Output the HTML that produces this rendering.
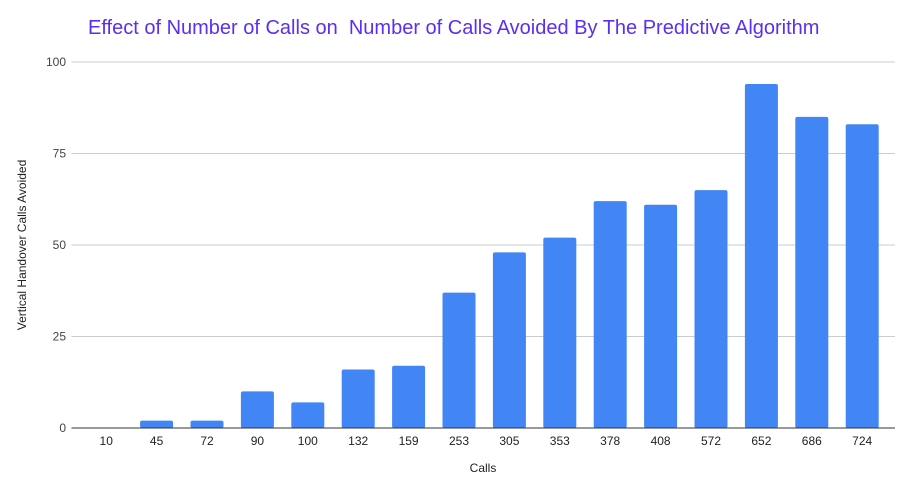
<!DOCTYPE html>
<html><head><meta charset="utf-8"><style>
body{margin:0;background:#fff;width:903px;height:495px;overflow:hidden;font-family:"Liberation Sans",Arial,sans-serif}
</style></head><body>
<svg id="chart" width="903" height="495" xmlns="http://www.w3.org/2000/svg">
<rect width="903" height="495" fill="#fff"/>
<text x="88" y="34" font-size="20" fill="#5b2ef5" style="white-space:pre" font-family="Liberation Sans, Arial, sans-serif">Effect of Number of Calls on  Number of Calls Avoided By The Predictive Algorithm</text>
<text transform="translate(26,245) rotate(-90)" text-anchor="middle" font-size="12" fill="#222">Vertical Handover Calls Avoided</text>
<text x="483" y="472" text-anchor="middle" font-size="12" fill="#222">Calls</text>
<g id="grid"></g><g id="bars"></g><g id="xlabels"></g>
</svg>
<script>
const categories=["10","45","72","90","100","132","159","253","305","353","378","408","572","652","686","724"];
const values=[0,2,2,10,7,16,17,37,48,52,62,61,65,94,85,83];
const yTicks=[0,25,50,75,100];
const NS="http://www.w3.org/2000/svg";
const y0=428,y100=62,left=71.5,right=895,bandStart=81,step=50.4,bw=33;
function yScale(v){return y0-(y0-y100)*v/100;}
function xCenter(i){return bandStart+step*(i+0.5);}
const grid=document.getElementById('grid'),bars=document.getElementById('bars'),xl=document.getElementById('xlabels');
yTicks.forEach(t=>{
 const l=document.createElementNS(NS,'line');
 
 
 l.setAttribute('x1',left);l.setAttribute('x2',right);l.setAttribute('y1',yScale(t));l.setAttribute('y2',yScale(t));
 l.setAttribute('stroke',t===0?'#333':'#ccc');l.setAttribute('stroke-width','1');
 grid.appendChild(l);
 const tx=document.createElementNS(NS,'text');
 
 
 tx.setAttribute('x',66);tx.setAttribute('y',yScale(t)+4);tx.setAttribute('text-anchor','end');tx.setAttribute('font-size','12');tx.setAttribute('fill','#444');
 tx.textContent=t;grid.appendChild(tx);
});
categories.forEach((c,i)=>{
 const v=values[i];
 if(v>0){
 const r=document.createElementNS(NS,'rect');
 
 
 const top=yScale(v);
 r.setAttribute('x',xCenter(i)-bw/2);r.setAttribute('y',top);r.setAttribute('width',bw);r.setAttribute('height',y0-top);
 r.setAttribute('rx','2');r.setAttribute('fill','#4285f4');
 bars.appendChild(r);}
 const tx=document.createElementNS(NS,'text');
 
 
 tx.setAttribute('x',xCenter(i));tx.setAttribute('y',445);tx.setAttribute('text-anchor','middle');tx.setAttribute('font-size','12');tx.setAttribute('fill','#222');
 tx.textContent=c;xl.appendChild(tx);
});
grid.parentNode.appendChild(grid.querySelector('line'));
</script>
</body></html>
